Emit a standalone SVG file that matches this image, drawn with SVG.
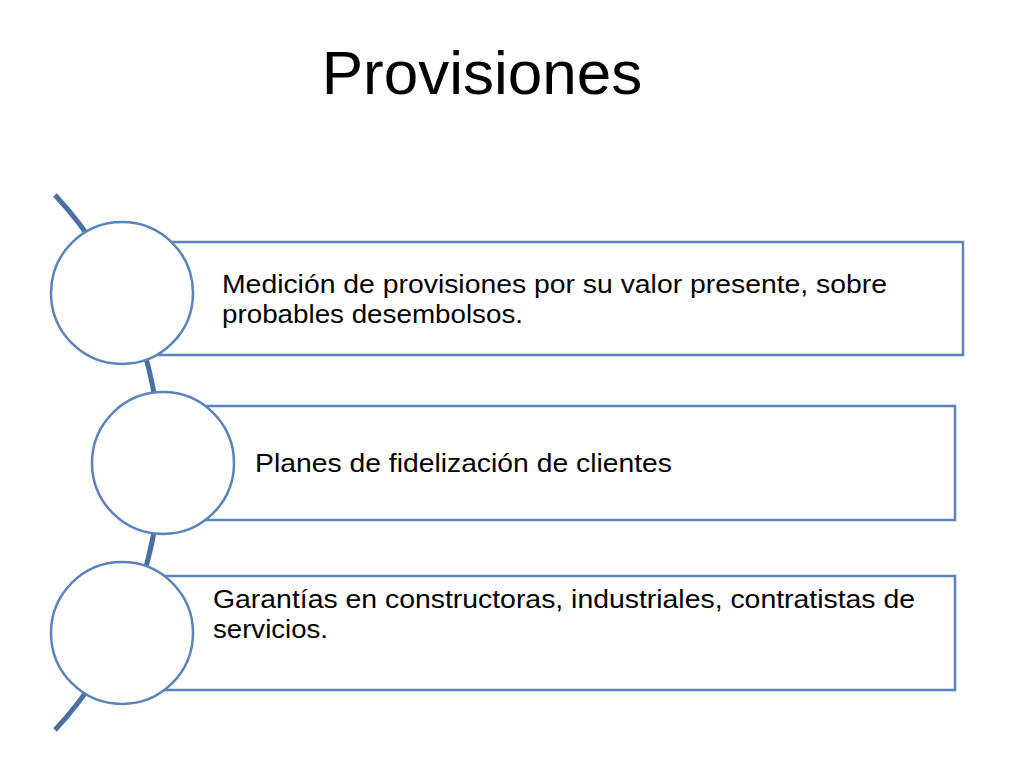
<svg xmlns="http://www.w3.org/2000/svg" width="1024" height="768" viewBox="0 0 1024 768">
<style>
.box{fill:#fff;stroke:#5a82bd;stroke-width:2.5}
.c{fill:#fff;stroke:#5a82bd;stroke-width:2.5}
.t{font-family:"Liberation Sans",Arial,sans-serif;font-size:25px;fill:#000}
</style>
<rect width="1024" height="768" fill="#fff"/>
<text x="482" y="94" text-anchor="middle" font-family="Liberation Sans,Arial,sans-serif" font-size="62" fill="#000">Provisiones</text>
<g id="connectors">
<path d="M55,195 A393,393 0 0 1 55,730" fill="none" stroke="#4a6fa0" stroke-width="5"/>
</g>
<g id="node1">
<rect class="box" x="155" y="242" width="808" height="113"/>
<circle class="c" cx="122" cy="293" r="71"/>
<text class="t" x="222" y="293" textLength="665" lengthAdjust="spacingAndGlyphs">Medición de provisiones por su valor presente, sobre</text>
<text class="t" x="222" y="323" textLength="301" lengthAdjust="spacingAndGlyphs">probables desembolsos.</text>
</g>
<g id="node2">
<rect class="box" x="195" y="406" width="760" height="114"/>
<circle class="c" cx="163" cy="463" r="71"/>
<text class="t" x="255" y="472" textLength="417" lengthAdjust="spacingAndGlyphs">Planes de fidelización de clientes</text>
</g>
<g id="node3">
<rect class="box" x="160" y="576" width="795" height="114"/>
<circle class="c" cx="122" cy="633" r="71"/>
<text class="t" x="213" y="608" textLength="702" lengthAdjust="spacingAndGlyphs">Garantías en constructoras, industriales, contratistas de</text>
<text class="t" x="213" y="638" textLength="115" lengthAdjust="spacingAndGlyphs">servicios.</text>
</g>
</svg>
